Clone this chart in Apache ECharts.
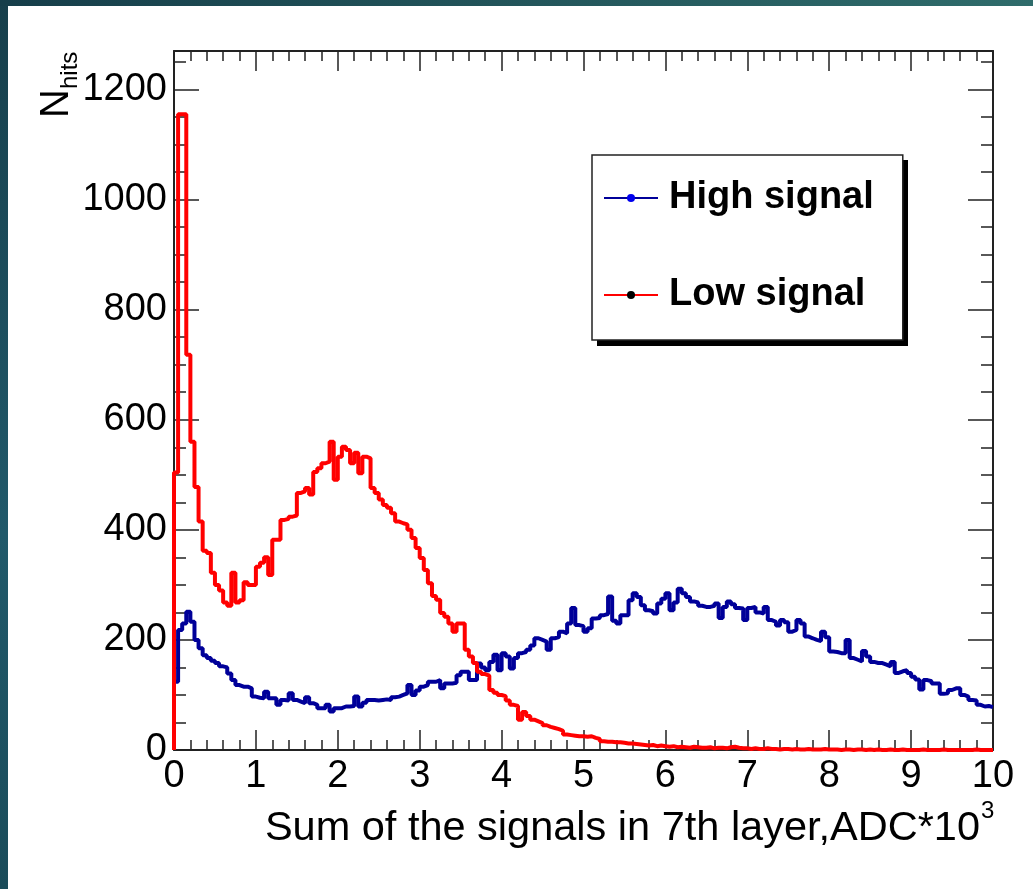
<!DOCTYPE html>
<html><head><meta charset="utf-8">
<script src="https://cdn.jsdelivr.net/npm/echarts@6.0.0/dist/echarts.min.js"></script>
<style>html,body{margin:0;padding:0;background:#fff}#c{width:1033px;height:889px}</style>
</head><body><div id="c"></div>
<script>
// ---- data ----
const xMin = 0, xMax = 10, binWidth = 0.05;
const yMin = 0, yMax = 1270;
const xTickLabels = ['0','1','2','3','4','5','6','7','8','9','10'];
const yTickLabels = ['0','200','400','600','800','1000','1200'];
const seriesNames = ['High signal', 'Low signal'];
const xTitle = 'Sum of the signals in 7th layer,ADC*10';
const xTitleSup = '3';
const yTitle = 'N';
const yTitleSub = 'hits';

const highSignal = [
 124,218,230,251,233,200,185,172,167,162,
 158,152,150,139,127,118,115,115,112,97,
 95,94,106,94,94,82,91,90,103,91,
 88,85,96,85,82,76,76,82,70,76,
 76,79,79,80,97,79,86,91,91,90,
 91,92,91,96,97,100,103,118,100,108,
 115,118,124,124,127,112,121,121,122,136,
 142,142,127,127,157,150,145,160,173,145,
 176,170,148,167,176,178,182,190,203,200,
 197,182,203,205,215,212,230,258,227,225,
 215,221,239,240,245,247,279,235,230,245,
 245,272,285,278,263,254,252,248,266,275,
 285,254,268,293,285,278,270,268,262,260,
 260,262,266,240,260,270,265,258,257,236,
 258,260,250,248,260,236,233,226,236,232,
 215,218,236,230,206,203,200,198,215,205,
 179,178,176,176,200,167,164,161,180,170,
 160,158,158,155,152,160,140,143,145,140,
 133,128,110,127,125,121,121,102,103,109,
 112,112,100,97,91,90,82,79,80,78
];
const lowSignal = [
 504,1155,1155,718,560,478,415,362,358,322,
 300,290,268,262,322,268,272,305,300,300,
 333,340,350,318,382,382,418,420,424,426,
 467,470,476,464,505,512,521,524,560,491,
 533,551,545,521,540,503,533,530,476,467,
 455,445,440,430,415,412,410,400,385,367,
 349,327,303,280,273,249,242,230,215,230,
 230,182,170,158,142,138,135,109,104,100,
 98,90,82,80,55,69,62,55,52,49,
 45,42,40,38,35,28,27,26,25,25,
 24,25,22,20,16,15,15,14,14,13,
 12,12,11,10,9,8,9,7,8,7,
 6,7,5,6,5,4,6,5,4,4,
 5,3,4,4,3,5,6,4,3,3,
 2,3,2,2,3,2,2,1,2,2,
 1,2,1,1,2,1,1,1,2,1,
 1,1,0,1,1,0,1,1,0,1,
 0,1,0,0,1,0,0,1,0,0,
 0,0,1,0,0,0,0,1,0,0,
 0,0,0,0,0,1,0,0,0,0
];

// ---- build ----
function toSteps(vals) {
  const d = [[xMin, 0]];
  vals.forEach((v, i) => d.push([xMin + i * binWidth, v]));
  d.push([xMax, vals[vals.length - 1]]);
  return d;
}
const FONT = 'Liberation Sans, Arial, Helvetica, sans-serif';
const frame = { color: '#222', width: 2 };
const tickStyle = { color: '#222', width: 1.5 };

function xAx(pos, labels) {
  return {
    type: 'value', min: xMin, max: xMax, interval: 1, position: pos,
    axisLine: { show: true, onZero: false, lineStyle: frame },
    axisTick: { show: true, inside: true, length: 20, lineStyle: tickStyle },
    minorTick: { show: true, splitNumber: 5, length: 10, lineStyle: tickStyle },
    splitLine: { show: false }, minorSplitLine: { show: false },
    axisLabel: { show: labels, margin: 8, fontSize: 38, color: '#000', fontFamily: FONT,
      formatter: v => xTickLabels[Math.round(v)] ?? '' }
  };
}
function yAx(pos, major) {
  return {
    type: 'value', min: yMin, max: yMax, interval: major ? 200 : 50, position: pos,
    axisLine: { show: major, onZero: false, lineStyle: frame },
    axisTick: { show: true, inside: true, length: major ? 25 : 12, lineStyle: tickStyle },
    splitLine: { show: false },
    axisLabel: { show: major && pos === 'left', margin: 7, fontSize: 38, color: '#000', fontFamily: FONT,
      formatter: v => (yTickLabels.includes(String(v)) ? String(v) : '') }
  };
}

const chart = echarts.init(document.getElementById('c'), null, { renderer: 'canvas' });
chart.setOption({
  animation: false,
  backgroundColor: '#ffffff',
  grid: { left: 174, top: 51, right: 40, bottom: 139, containLabel: false },
  xAxis: [xAx('bottom', true), xAx('top', false)],
  yAxis: [yAx('left', true), yAx('left', false), yAx('right', true), yAx('right', false)],
  legend: {
    data: seriesNames, orient: 'vertical', left: 592, top: 155,
    padding: [23, 29, 25, 11], itemGap: 57, itemWidth: 54, itemHeight: 10,
    backgroundColor: '#fff', borderColor: '#222', borderWidth: 1.5,
    selectedMode: false,
    lineStyle: { width: 2 },
    textStyle: { fontSize: 38, fontWeight: 'bold', color: '#000', fontFamily: FONT, lineHeight: 40, padding: [0, 0, 0, 6] }
  },
  series: [
    { name: seriesNames[0], type: 'line', step: 'end', xAxisIndex: 0, yAxisIndex: 0,
      data: toSteps(highSignal), symbol: 'circle', showSymbol: false, silent: true,
      lineStyle: { color: '#000099', width: 4 }, itemStyle: { color: '#0000ee' }, z: 2 },
    { name: seriesNames[1], type: 'line', step: 'end', xAxisIndex: 0, yAxisIndex: 0,
      data: toSteps(lowSignal), symbol: 'circle', showSymbol: false, silent: true,
      lineStyle: { color: '#ff0000', width: 4 }, itemStyle: { color: '#000000' }, z: 3 }
  ],
  graphic: [
    { type: 'rect', shape: { x: 0, y: 0, width: 8, height: 889 }, style: { fill: new echarts.graphic.LinearGradient(0, 0, 0, 1, [{offset: 0, color: '#173f4b'}, {offset: 0.6, color: '#21596a'}, {offset: 1, color: '#1b4c5a'}]) }, silent: true },
    { type: 'rect', shape: { x: 0, y: 0, width: 1033, height: 6 }, style: { fill: new echarts.graphic.LinearGradient(0, 0, 1, 0, [{offset: 0, color: '#163e4a'}, {offset: 1, color: '#2f6c6b'}]) }, silent: true },
    { type: 'rect', shape: { x: 597, y: 160, width: 311, height: 186 }, style: { fill: '#000' }, silent: true, z: 0 },
    { type: 'text', x: 980, y: 829, style: { text: xTitle, font: '41.5px ' + FONT, fill: '#000', align: 'right', verticalAlign: 'middle' }, silent: true },
    { type: 'text', x: 981, y: 811, style: { text: xTitleSup, font: '24px ' + FONT, fill: '#000', align: 'left', verticalAlign: 'middle' }, silent: true },
    { type: 'text', x: 57, y: 118, rotation: Math.PI / 2, style: { text: yTitle, font: '40px ' + FONT, fill: '#000', align: 'left', verticalAlign: 'middle' }, silent: true },
    { type: 'text', x: 70, y: 89, rotation: Math.PI / 2, style: { text: yTitleSub, font: '24px ' + FONT, fill: '#000', align: 'left', verticalAlign: 'middle' }, silent: true }
  ]
});
</script></body></html>
